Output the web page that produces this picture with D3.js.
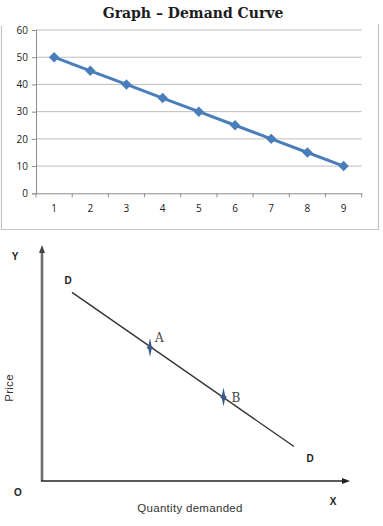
<!DOCTYPE html>
<html>
<head>
<meta charset="utf-8">
<script src="https://cdn.jsdelivr.net/npm/d3@7"></script>
<style>
  body { margin: 0; background: #fff; }
  svg { display: block; }
</style>
</head>
<body>
<div id="container"></div>
<script>
// top chart data
const quantities = [1, 2, 3, 4, 5, 6, 7, 8, 9]
const prices = [50, 45, 40, 35, 30, 25, 20, 15, 10]
const yTicks = [0, 10, 20, 30, 40, 50, 60]

// bottom diagram data (price/quantity units on 0-10 scale)
const demandLine = [[1.0, 8.2], [8.4, 1.5]]
const markedPoints = [
  { name: "A", q: 3.6, p: 5.8 },
  { name: "B", q: 6.05, p: 3.65 }
]

const width = 383
const height = 526

const svg = d3.select("#container").append("svg")
    .attr("width", width)
    .attr("height", height)

// ---------- top chart ----------
svg.append("text")
    .attr("x", 193)
    .attr("y", 18)
    .attr("text-anchor", "middle")
    .attr("font-family", "'DejaVu Serif', serif")
    .attr("font-weight", "bold")
    .attr("font-size", "14px")
    .attr("fill", "#1c1c1c")
    .text("Graph \u2013 Demand Curve")

// frame (no top edge)
svg.append("path")
    .attr("d", "M1.5,26V229.5H378.5V24")
    .attr("fill", "none")
    .attr("stroke", "#c4c4c4")
    .attr("stroke-width", 1.2)

const x = d3.scaleBand()
    .domain(quantities)
    .range([36, 361.7])

const y = d3.scaleLinear()
    .domain([0, 60])
    .range([193.3, 30])

// gridlines
svg.append("g")
    .selectAll("line")
    .data(yTicks.filter(d => d > 0))
    .join("line")
    .attr("x1", 36)
    .attr("x2", 361.7)
    .attr("y1", d => y(d))
    .attr("y2", d => y(d))
    .attr("stroke", "#bdbdbd")
    .attr("stroke-width", 1)

const yAxis = svg.append("g")
    .attr("transform", "translate(36,0)")
    .call(d3.axisLeft(y).tickValues(yTicks).tickSize(4).tickPadding(4))
yAxis.select(".domain").attr("stroke", "#8c8c8c")
yAxis.selectAll(".tick line").attr("stroke", "#8c8c8c")
yAxis.selectAll("text")
    .attr("font-family", "'Open Sans', sans-serif")
    .attr("font-size", "10px")
    .attr("fill", "#222")

const xAxis = svg.append("g")
    .attr("transform", "translate(0,193.3)")
    .call(d3.axisBottom(x).tickSize(0).tickPadding(12))
xAxis.select(".domain").attr("stroke", "#8c8c8c")
xAxis.selectAll("text")
    .attr("font-family", "'Open Sans', sans-serif")
    .attr("font-size", "10px")
    .attr("fill", "#222")

// tick marks at band edges
svg.append("g")
    .selectAll("line")
    .data(quantities.concat([10]))
    .join("line")
    .attr("x1", (d, i) => 36 + i * x.step())
    .attr("x2", (d, i) => 36 + i * x.step())
    .attr("y1", 193.3)
    .attr("y2", 197.3)
    .attr("stroke", "#8c8c8c")

const series = quantities.map((q, i) => ({ q, p: prices[i] }))

svg.append("path")
    .datum(series)
    .attr("fill", "none")
    .attr("stroke", "#4a7ebb")
    .attr("stroke-width", 3)
    .attr("stroke-linejoin", "round")
    .attr("d", d3.line()
        .x(d => x(d.q) + x.bandwidth() / 2)
        .y(d => y(d.p)))

svg.append("g")
    .selectAll("path")
    .data(series)
    .join("path")
    .attr("transform", d => `translate(${x(d.q) + x.bandwidth() / 2},${y(d.p)})`)
    .attr("d", d3.symbol(d3.symbolDiamond2, 70))
    .attr("fill", "#4a7ebb")

// ---------- bottom diagram ----------
const qx = d3.scaleLinear().domain([0, 10]).range([42, 342])
const py = d3.scaleLinear().domain([0, 10]).range([481, 251])

svg.append("line")
    .attr("x1", qx(0)).attr("x2", qx(0))
    .attr("y1", py(0)).attr("y2", py(10) + 2)
    .attr("stroke", "#6e6e6e")
    .attr("stroke-width", 2.6)
svg.append("line")
    .attr("x1", qx(0) - 1).attr("x2", qx(10) + 1)
    .attr("y1", py(0)).attr("y2", py(0))
    .attr("stroke", "#222")
    .attr("stroke-width", 1.6)

// arrow heads
svg.append("path")
    .attr("transform", `translate(${qx(0)},${py(10) - 2})`)
    .attr("d", "M0,-4L3,4H-3Z")
    .attr("fill", "#444")
svg.append("path")
    .attr("transform", `translate(${qx(10) + 4},${py(0)})`)
    .attr("d", "M4,0L-4,-3V3Z")
    .attr("fill", "#222")

svg.append("path")
    .datum(demandLine)
    .attr("fill", "none")
    .attr("stroke", "#333")
    .attr("stroke-width", 1.4)
    .attr("d", d3.line().x(d => qx(d[0])).y(d => py(d[1])))

// point markers: tall four-point stars
const star = "M0,-9.5L1.6,-1.6L3.5,0L1.6,1.6L0,9.5L-1.6,1.6L-3.5,0L-1.6,-1.6Z"
svg.append("g")
    .selectAll("path")
    .data(markedPoints)
    .join("path")
    .attr("transform", d => `translate(${qx(d.q)},${py(d.p)})`)
    .attr("d", star)
    .attr("fill", "#3a5a8c")

svg.append("g")
    .selectAll("text")
    .data(markedPoints)
    .join("text")
    .attr("x", d => qx(d.q) + (d.name === "A" ? 5 : 8))
    .attr("y", d => py(d.p) + (d.name === "A" ? -6 : 5))
    .attr("font-family", "'DejaVu Serif', serif")
    .attr("font-size", "12px")
    .attr("fill", "#444")
    .text(d => d.name)

const labelFont = "'Liberation Sans', Arial, sans-serif"
const smallLabels = [
  { t: "Y", x: 15, y: 260 },
  { t: "D", x: 68, y: 284 },
  { t: "D", x: 310, y: 462 },
  { t: "O", x: 18, y: 496 },
  { t: "X", x: 333, y: 505 }
]
svg.append("g")
    .selectAll("text")
    .data(smallLabels)
    .join("text")
    .attr("x", d => d.x)
    .attr("y", d => d.y)
    .attr("text-anchor", "middle")
    .attr("font-family", labelFont)
    .attr("font-weight", "bold")
    .attr("font-size", "10px")
    .attr("fill", "#222")
    .text(d => d.t)

svg.append("text")
    .attr("x", 190)
    .attr("y", 512)
    .attr("text-anchor", "middle")
    .attr("font-family", labelFont)
    .attr("font-size", "11.5px")
    .attr("letter-spacing", "0.3px")
    .attr("fill", "#333")
    .text("Quantity demanded")

svg.append("text")
    .attr("transform", "translate(13,388) rotate(-90)")
    .attr("text-anchor", "middle")
    .attr("font-family", labelFont)
    .attr("font-size", "11.5px")
    .attr("letter-spacing", "0.3px")
    .attr("fill", "#333")
    .text("Price")
</script>
</body>
</html>
